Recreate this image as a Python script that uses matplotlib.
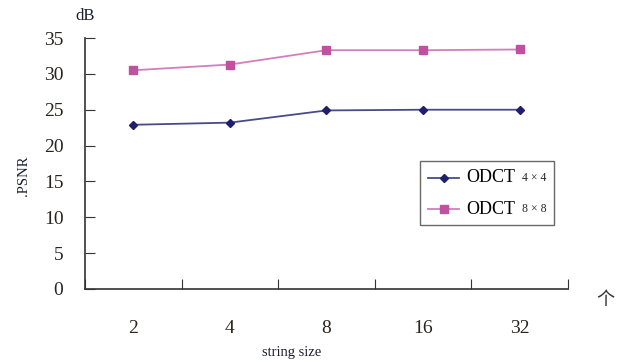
import matplotlib.pyplot as plt
from matplotlib.offsetbox import TextArea
import numpy as np

# data
sizes = ['2', '4', '8', '16', '32']
psnr_4x4 = [22.9, 23.2, 24.9, 25.0, 25.0]
psnr_8x8 = [30.5, 31.3, 33.3, 33.3, 33.4]
yticks = [0, 5, 10, 15, 20, 25, 30, 35]
block_labels = ['4 × 4', '8 × 8']

plt.rcParams['font.family'] = ['Liberation Serif', 'DejaVu Serif']

fig = plt.figure(figsize=(6.26, 3.62), dpi=100)
ax = fig.add_axes([0.1358, 0.2017, 0.7715, 0.6933])

x = np.arange(len(sizes)) + 0.5
ax.plot(x, psnr_4x4, color='#4a4a8a', marker='D', markersize=4.5, lw=1.3,
        markerfacecolor='#1f1f6e', markeredgecolor='#1f1f6e', label='ODCT')
ax.plot(x, psnr_8x8, color='#d27fbe', marker='s', markersize=5.5, lw=1.3,
        markerfacecolor='#c050a0', markeredgecolor='#c050a0', label='ODCT')

ax.set_xlim(0, len(sizes))
ax.set_ylim(0, 35)
ax.set_yticks(yticks)
ax.tick_params(axis='y', direction='in', length=7, labelsize=14, pad=15.5,
               color='#333333', labelcolor='#2a2420')
ax.set_xticks(np.arange(len(sizes) + 1))
ax.set_xticklabels([])
ax.set_xticks(x, minor=True)
ax.set_xticklabels(sizes, minor=True)
ax.tick_params(axis='x', which='major', direction='in', length=7,
               color='#333333')
ax.tick_params(axis='x', which='minor', length=0, labelsize=14, pad=22,
               labelcolor='#2a2420')
for s in ['top', 'right']:
    ax.spines[s].set_visible(False)
for s in ['left', 'bottom']:
    ax.spines[s].set_color('#333333')
    ax.spines[s].set_linewidth(1.2)

fig.text(0.0375, 0.515, '.PSNR', rotation=90, fontsize=10.5,
         color='#1a2030', ha='center', va='center')
fig.text(0.136, 0.955, 'dB', fontsize=12, color='#1a2030',
         ha='center', va='center')
fig.text(0.466, 0.025, 'string size', fontsize=10.5, color='#1a2030',
         ha='center', va='center')
fig.text(0.967, 0.172, '个', fontsize=13, color='#333333',
         family=['Noto Sans CJK SC', 'DejaVu Sans'],
         ha='center', va='center')

leg = ax.legend(loc='upper left', bbox_to_anchor=(0.694, 0.508),
                fontsize=13, frameon=True, fancybox=False,
                edgecolor='#444444', handlelength=1.75, borderpad=0.42,
                labelspacing=0.8, handletextpad=0.25, borderaxespad=0)
leg.get_frame().set_linewidth(1.0)

# small block-size text after each "ODCT" entry, inside the legend box
rows = [hp for col in leg._legend_handle_box.get_children()
        for hp in col.get_children()]
for hp, lab in zip(rows, block_labels):
    ta = TextArea(lab, textprops=dict(fontsize=8.5, color='#2a2420'))
    ta.set_figure(fig)
    hp._children.append(ta)
    hp.sep = 5
    hp.align = 'center'

fig.savefig('out.png', dpi=100)
